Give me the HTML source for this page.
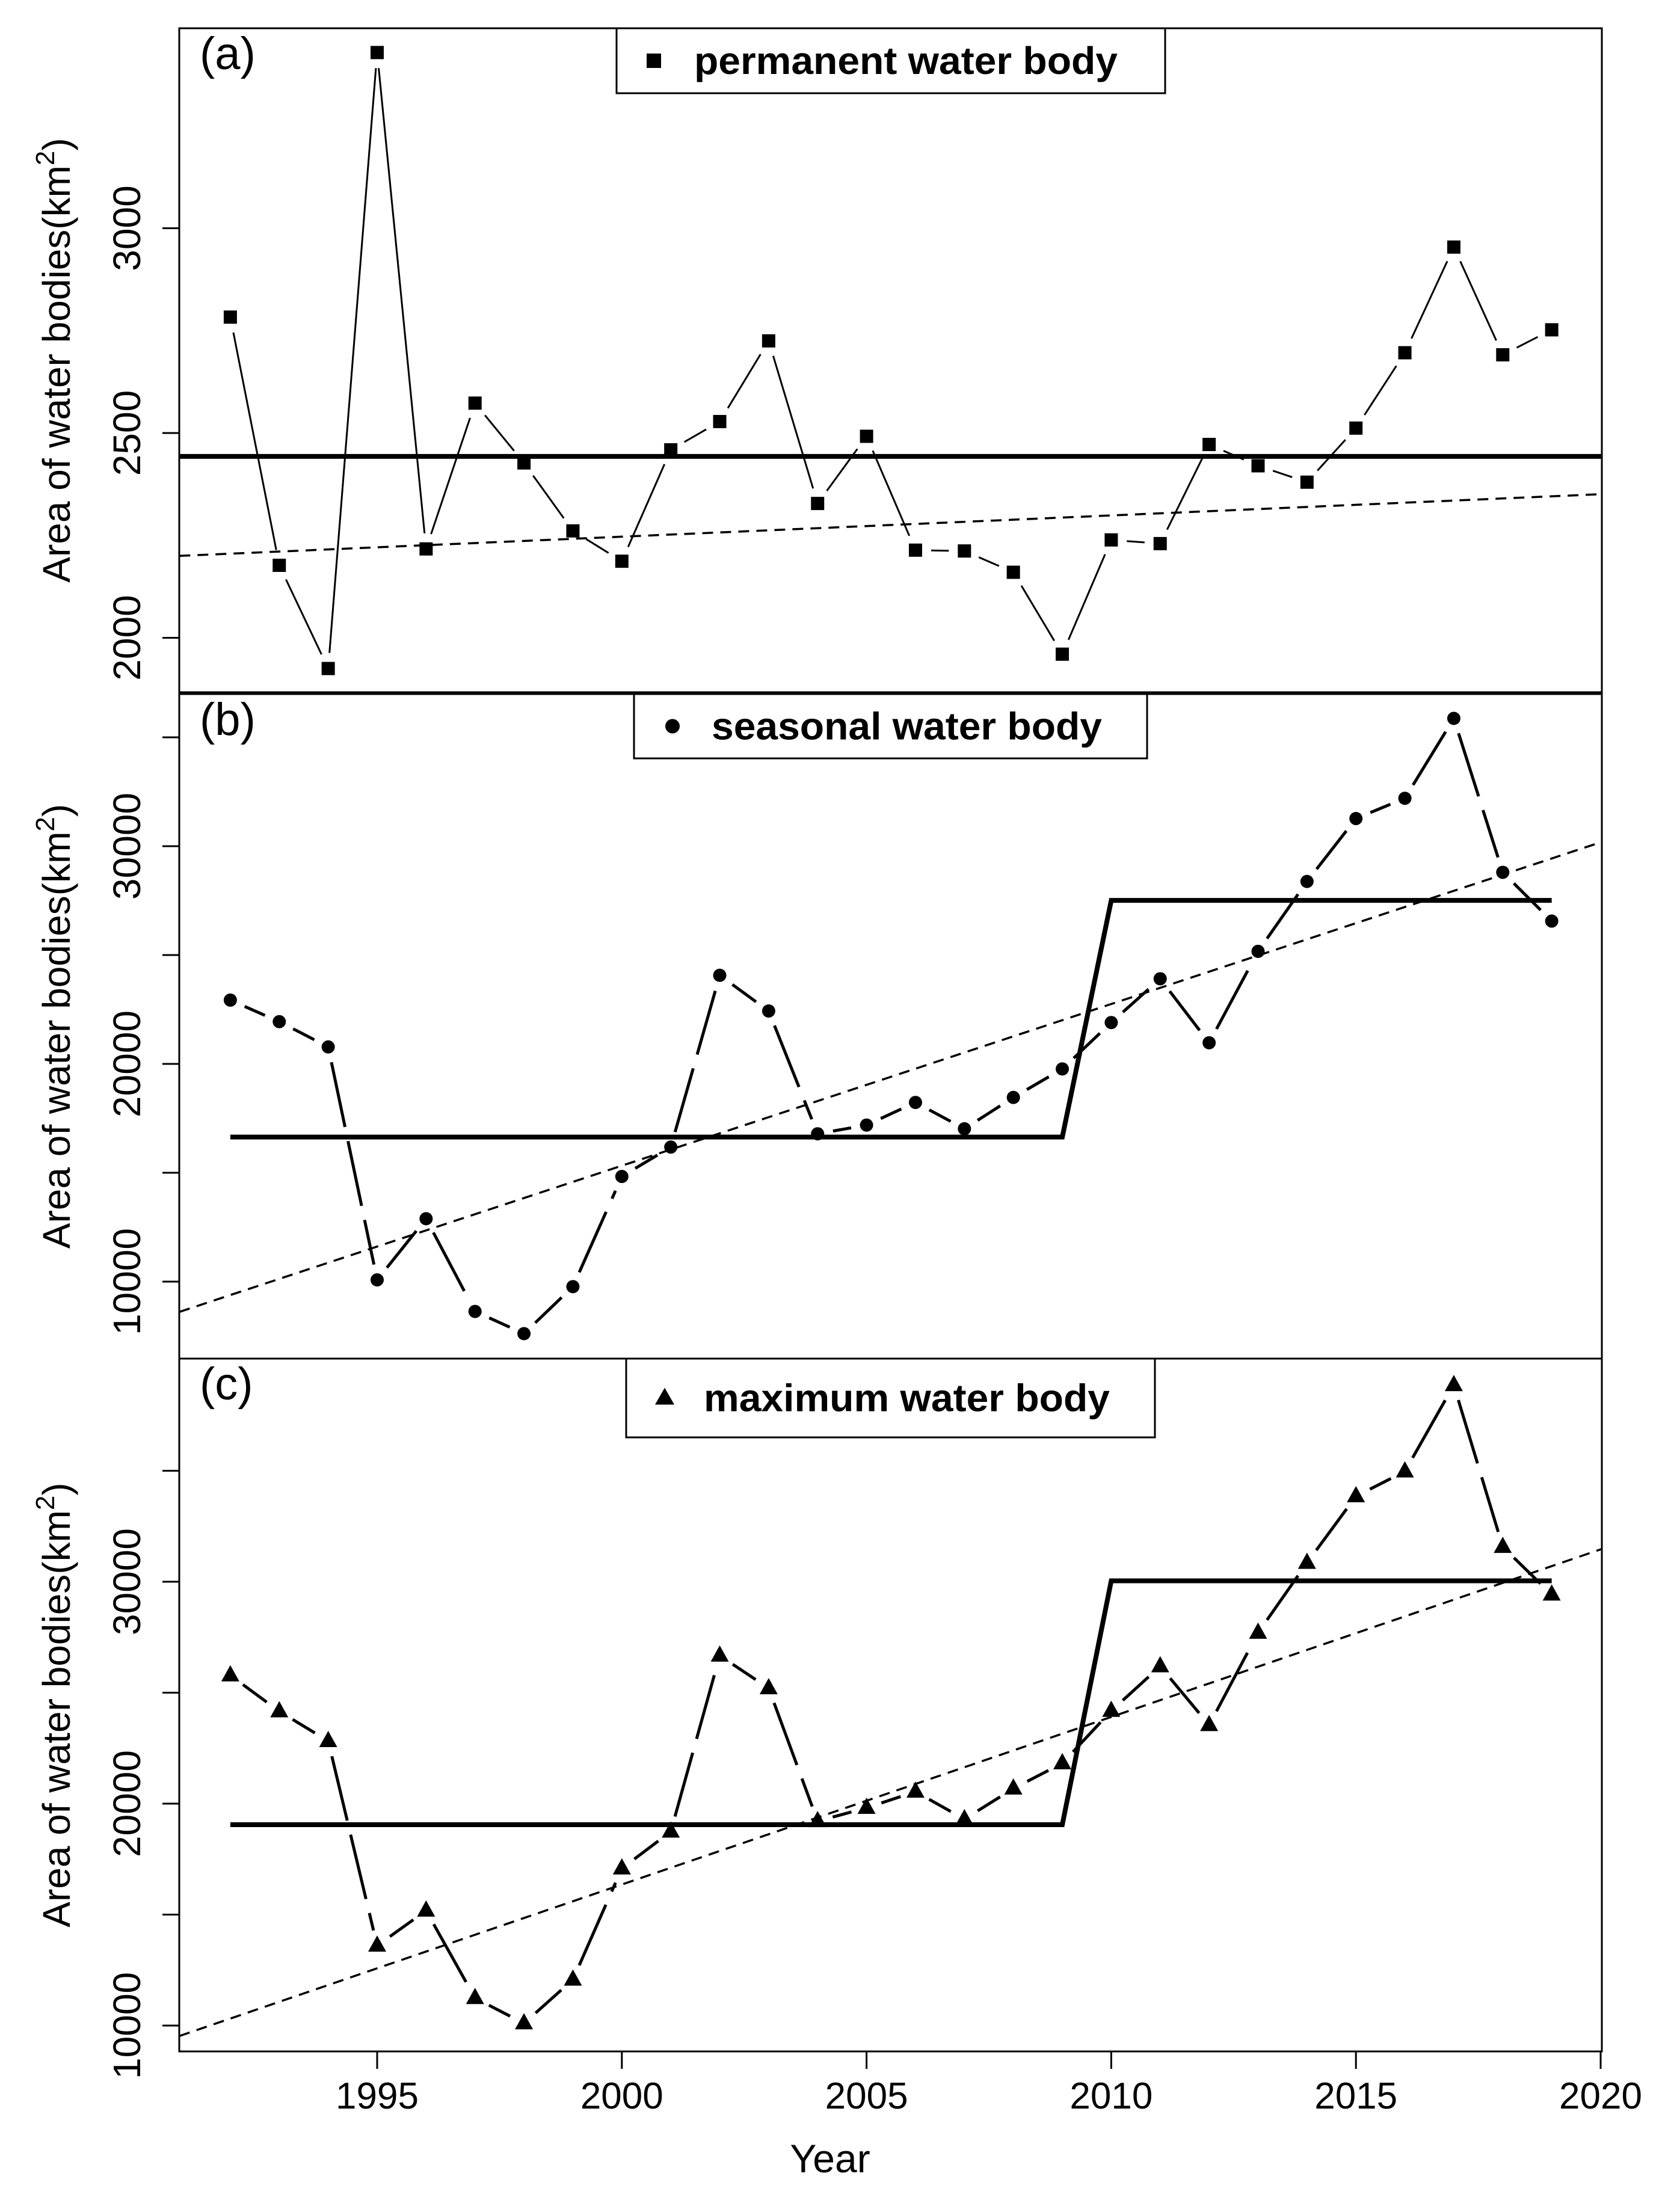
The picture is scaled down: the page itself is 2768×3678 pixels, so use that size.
<!DOCTYPE html>
<html><head><meta charset="utf-8"><style>
html,body{margin:0;padding:0;background:#fff;}
svg{display:block;}
text{font-family:"Liberation Sans",Arial,sans-serif;fill:#000;}
</style></head><body>
<svg id="chart" width="2768" height="3678" viewBox="0 0 2768 3678" xmlns="http://www.w3.org/2000/svg">
<rect x="0" y="0" width="2768" height="3678" fill="#fff"/>
<text x="1380" y="3612" font-size="66" text-anchor="middle">Year</text>
</svg>
<script>
const years = [1992,1993,1994,1995,1996,1997,1998,1999,2000,2001,2002,2003,2004,2005,2006,2007,2008,2009,2010,2011,2012,2013,2014,2015,2016,2017,2018,2019];
const permanentValues = [2783,2177,1925,3429,2217,2573,2427,2261,2187,2459,2528,2725,2328,2492,2214,2212,2160,1960,2239,2230,2472,2420,2380,2512,2696,2954,2691,2752];
const seasonalValues = [22930,21940,20780,10080,12890,8630,7610,9770,14830,16180,24070,22430,16790,17190,18230,17020,18460,19770,21900,23910,20970,25170,28380,31270,32200,35870,28800,26560];
const maximumValues = [25780,24160,22820,13600,15180,11240,10100,12070,17080,18740,26670,25200,19210,19810,20540,19300,20680,21820,24180,26190,23540,27700,30850,33850,34970,38860,31570,29420];
const permanentStepYears = [1990.9,2020.1];
const permanentStepValues = [2443,2443];
const seasonalStepYears = [1992,2009,2010,2019];
const seasonalStepValues = [16640,16640,27510,27510];
const maximumStepYears = [1992,2009,2010,2019];
const maximumStepValues = [19050,19050,30040,30040];
const trendYears = [1990.96,2020.07];
const permanentTrend = [2200,2351];
const seasonalTrend = [8610,30230];
const maximumTrend = [9530,31510];
const xTickYears = [1995,2000,2005,2010,2015,2020];
const permanentTicks = [2000,2500,3000];
const permanentTickLabels = ["2000","2500","3000"];
const bigTicks = [10000,15000,20000,25000,30000,35000];
const bigTickLabels = ["10000","","20000","","30000",""];

const NS = "http://www.w3.org/2000/svg";
const svg = document.getElementById('chart');
const X0 = 298, X1 = 2663;
function xScale(yr){ return 627 + 81.36*(yr-1995); }
function mk(tag, attrs, parent){
  const e = document.createElementNS(NS, tag);
  for (const k in attrs) e.setAttribute(k, attrs[k]);
  (parent||svg).appendChild(e);
  return e;
}

const panels = [
  {key:'a', top:47, bottom:1151, y:v=>720-(v-2500)*340.5/500, vals:permanentValues, stepY:permanentStepYears, stepV:permanentStepValues, trend:permanentTrend, ticks:permanentTicks, labels:permanentTickLabels, marker:'square', lw:3, legend:{x:1025,y:47,w:912,h:108,mx:1087,tx:1154,tw:704,text:'permanent water body'}, label:'(a)'},
  {key:'b', top:1154, bottom:2259, y:v=>1769-(v-20000)*181/5000, vals:seasonalValues, stepY:seasonalStepYears, stepV:seasonalStepValues, trend:seasonalTrend, ticks:bigTicks, labels:bigTickLabels, marker:'circle', lw:5, legend:{x:1054,y:1154,w:853,h:107,mx:1118,tx:1183,tw:649,text:'seasonal water body'}, label:'(b)'},
  {key:'c', top:2259, bottom:3411, y:v=>2999-(v-20000)*184.5/5000, vals:maximumValues, stepY:maximumStepYears, stepV:maximumStepValues, trend:maximumTrend, ticks:bigTicks, labels:bigTickLabels, marker:'triangle', lw:5, legend:{x:1041,y:2259,w:879,h:131,mx:1105,tx:1170,tw:675,text:'maximum water body'}, label:'(c)'}
];

panels.forEach(p => {
  const g = mk('g', {});
  
  
  const cp = mk('clipPath', {id:'clip-'+p.key}, g);
  mk('rect', {x:X0, y:p.top, width:X1-X0, height:p.bottom-p.top}, cp);
  const plot = mk('g', {'clip-path':'url(#clip-'+p.key+')'}, g);

  const tr = mk('line', {x1:xScale(trendYears[0]), y1:p.y(p.trend[0]), x2:xScale(trendYears[1]), y2:p.y(p.trend[1]), stroke:'#000', 'stroke-width':3.5, 'stroke-dasharray':'18 12'}, plot);
  
  

  let d = '';
  p.stepY.forEach((yr,i)=>{ d += (i?'L':'M') + xScale(yr) + ' ' + p.y(p.stepV[i]) + ' '; });
  const st = mk('path', {d:d, fill:'none', stroke:'#000', 'stroke-width':8, 'stroke-linejoin':'miter'}, plot);
  
  

  const gap = 26;
  for (let i=0;i<years.length-1;i++){
    const xa=xScale(years[i]), ya=p.y(p.vals[i]), xb=xScale(years[i+1]), yb=p.y(p.vals[i+1]);
    const L=Math.hypot(xb-xa,yb-ya);
    if (L<=2*gap) continue;
    const ux=(xb-xa)/L, uy=(yb-ya)/L;
    const seg = mk('line', {x1:xa+ux*gap, y1:ya+uy*gap, x2:xb-ux*gap, y2:yb-uy*gap, stroke:'#000', 'stroke-width':p.lw, 'stroke-dasharray': p.key==='a' ? 'none' : '110 24'}, plot);
    
    
  }
  years.forEach((yr,i)=>{
    const cx=xScale(yr), cy=p.y(p.vals[i]);
    let m;
    if (p.marker==='square') m = mk('rect', {x:cx-11, y:cy-11, width:22, height:22, fill:'#000'}, plot);
    else if (p.marker==='circle') m = mk('circle', {cx:cx, cy:cy, r:11, fill:'#000'}, plot);
    else m = mk('polygon', {points:(cx)+','+(cy-17)+' '+(cx-15)+','+(cy+10)+' '+(cx+15)+','+(cy+10), fill:'#000'}, plot);
    
    
  });

  const box = mk('rect', {x:X0, y:p.top, width:X1-X0, height:p.bottom-p.top, fill:'none', stroke:'#000', 'stroke-width':3}, g);
  
  

  p.ticks.forEach((v,i)=>{
    const ty=p.y(v);
    const t = mk('line', {x1:270, y1:ty, x2:X0, y2:ty, stroke:'#000', 'stroke-width':3}, g);
    
    
    if (p.labels[i]){
      const lb = mk('text', {x:0, y:0, 'font-size':64, 'text-anchor':'middle', transform:'translate(233,'+ty+') rotate(-90)'}, g);
      lb.textContent = p.labels[i];
      
      
    }
  });

  const cy = (p.top+p.bottom)/2;
  const yt = mk('text', {x:0, y:0, 'font-size':64, 'text-anchor':'middle', transform:'translate(116,'+cy+') rotate(-90)'}, g);
  
  
  yt.appendChild(document.createTextNode('Area of water bodies(km'));
  const sup = mk('tspan', {dy:-26, 'font-size':44}, yt);
  sup.textContent = '2';
  const close = mk('tspan', {dy:26}, yt);
  close.textContent = ')';

  const pl = mk('text', {x:332, y:p.top+68, 'font-size':76}, g);
  pl.textContent = p.label;
  
  

  const L = p.legend;
  const lg = mk('g', {}, g);
  
  
  mk('rect', {x:L.x, y:L.y, width:L.w, height:L.h, fill:'#fff', stroke:'#000', 'stroke-width':3}, lg);
  const my = L.y + L.h/2;
  let lm;
  if (p.marker==='square') lm = mk('rect', {x:L.mx-12, y:my-12, width:24, height:24, fill:'#000'}, lg);
  else if (p.marker==='circle') lm = mk('circle', {cx:L.mx, cy:my, r:12, fill:'#000'}, lg);
  else lm = mk('polygon', {points:L.mx+','+(my-17)+' '+(L.mx-16)+','+(my+11)+' '+(L.mx+16)+','+(my+11), fill:'#000'}, lg);
  
  
  const lt = mk('text', {x:L.tx, y:my+22, 'font-size':64, 'font-weight':'bold', textLength:L.tw, lengthAdjust:'spacingAndGlyphs'}, lg);
  lt.textContent = L.text;
  
  
});

xTickYears.forEach(yr=>{
  const x = xScale(yr);
  const t = mk('line', {x1:x, y1:3411, x2:x, y2:3440, stroke:'#000', 'stroke-width':3});
  
  
  const lb = mk('text', {x:x, y:3506, 'font-size':62, 'text-anchor':'middle'});
  lb.textContent = String(yr);
  
  
});
</script>
</body></html>
